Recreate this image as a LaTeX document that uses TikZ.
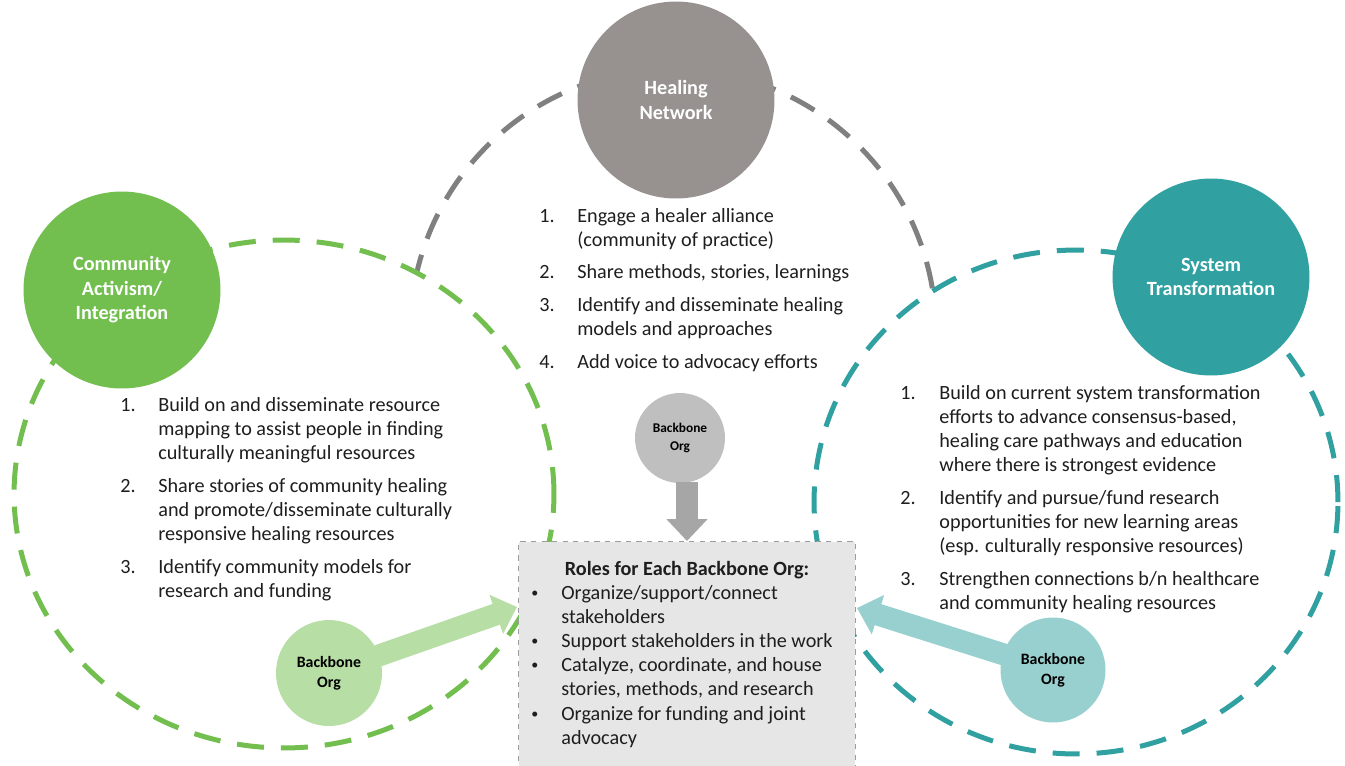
\documentclass[tikz,border=0pt]{standalone}
\usepackage{fontspec}
\setmainfont{Carlito}
\usetikzlibrary{arrows.meta}

\definecolor{commgreen}{HTML}{72BF4F}
\definecolor{healgray}{HTML}{97928F}
\definecolor{systeal}{HTML}{31A0A1}
\definecolor{ringgray}{HTML}{808080}
\definecolor{bbgray}{HTML}{BFBFBF}
\definecolor{bbgreen}{HTML}{B7DEA5}
\definecolor{bbteal}{HTML}{98D0CF}
\definecolor{arrowgray}{HTML}{A6A6A6}
\definecolor{boxfill}{HTML}{E6E6E6}
\definecolor{boxline}{HTML}{9C9C9C}
\definecolor{bodytext}{HTML}{1E1E1E}

\newcommand{\roledot}{\raisebox{0.2ex}{\fontsize{8}{8}\selectfont\textbullet}}

\tikzset{
  dashring/.style={line width=0.1cm, dash pattern=on 0.54cm off 0.34cm},
  bignode/.style={circle, minimum size=3.94cm, inner sep=0, text=white,
    font=\fontsize{11.5}{13.9}\selectfont\bfseries, align=center},
  bbnode/.style={circle, inner sep=0, align=center, text=black},
  listtext/.style={anchor=base west, inner sep=0, text=bodytext,
    font=\fontsize{11.5}{13.8}\selectfont},
  rolebox/.style={draw=boxline, fill=boxfill, dashed, line width=0.6pt,
    anchor=north west, minimum width=6.74cm, minimum height=4.8cm, inner sep=0},
  blockarrow/.style={line width=0.44cm, shorten <=-0.03cm,
    -{Triangle[width=0.8cm,length=0.44cm]}}
}

\begin{document}
\begin{tikzpicture}[x=0.02cm,y=-0.02cm]
  \useasboundingbox (0,0) rectangle (1345,765);

  % rings
  \draw [dashring, draw=ringgray] (673,332) circle [radius=5.26cm];
  \filldraw [dashring, draw=commgreen, fill=white] (284,494) ellipse [x radius=5.4cm, y radius=5.08cm];
  \filldraw [dashring, draw=systeal, fill=white] (1076,502) ellipse [x radius=5.24cm, y radius=5.04cm];

  \node [bignode, fill=commgreen] (community) at (122,290) {Community\\Activism/\\Integration};
  \node [bignode, fill=healgray] (healing) at (676,100) {Healing\\Network};
  \node [bignode, fill=systeal] (system) at (1211,277) {System\\Transformation};

  % lists
  \node [listtext] (communitylist) at (120,411) {%
    \begin{tabular}[t]{@{}p{0.76cm}@{}l@{}}
      1. & Build on and disseminate resource\\
         & mapping to assist people in finding\\
         & culturally meaningful resources\\[4.8pt]
      2. & Share stories of community healing\\
         & and promote/disseminate culturally\\
         & responsive healing resources\\[4.8pt]
      3. & Identify community models for\\
         & research and funding
    \end{tabular}};
  \node [listtext] (healinglist) at (539,222) {%
    \begin{tabular}[t]{@{}p{0.76cm}@{}l@{}}
      1. & Engage a healer alliance\\
         & (community of practice)\\[4.8pt]
      2. & Share methods, stories, learnings\\[4.8pt]
      3. & Identify and disseminate healing\\
         & models and approaches\\[4.8pt]
      4. & Add voice to advocacy efforts
    \end{tabular}};
  \node [listtext] (systemlist) at (900,399) {%
    \begin{tabular}[t]{@{}p{0.78cm}@{}l@{}}
      1. & Build on current system transformation\\
         & efforts to advance consensus-based,\\
         & healing care pathways and education\\
         & where there is strongest evidence\\[4.8pt]
      2. & Identify and pursue/fund research\\
         & opportunities for new learning areas\\
         & (esp. culturally responsive resources)\\[4.8pt]
      3. & Strengthen connections b/n healthcare\\
         & and community healing resources
    \end{tabular}};

  % roles box
  \node [rolebox] (roles) at (518,541) {};
  \node [listtext, anchor=base, font=\fontsize{11.5}{13.8}\selectfont\bfseries] (rolestitle) at (687,575) {Roles for Each Backbone Org:};
  \node [listtext] (roleslist) at (531,599) {%
    \begin{tabular}[t]{@{}p{0.6cm}@{}l@{}}
      \roledot & Organize/support/connect\\
               & stakeholders\\
      \roledot & Support stakeholders in the work\\
      \roledot & Catalyze, coordinate, and house\\
               & stories, methods, and research\\
      \roledot & Organize for funding and joint\\
               & advocacy
    \end{tabular}};

  % backbone orgs
  \node [bbnode, fill=bbgray, minimum size=1.8cm, font=\fontsize{7.6}{10.2}\selectfont\bfseries] (bbtop) at (680,438) {Backbone\\Org};
  \node [bbnode, fill=bbgreen, minimum size=2.12cm, font=\fontsize{9}{11.6}\selectfont\bfseries] (bbleft) at (329,673) {Backbone\\Org};
  \node [bbnode, fill=bbteal, minimum size=2.1cm, font=\fontsize{9}{11.6}\selectfont\bfseries] (bbright) at (1053,670) {Backbone\\Org};

  \coordinate (lefttip) at (517,607);
  \coordinate (righttip) at (857,608);

  \draw [blockarrow, arrowgray] (roles.north |- bbtop.south) -- (roles.north);
  \draw [blockarrow, bbgreen] (bbleft) -- (lefttip);
  \draw [blockarrow, bbteal] (bbright) -- (righttip);
\end{tikzpicture}
\end{document}
